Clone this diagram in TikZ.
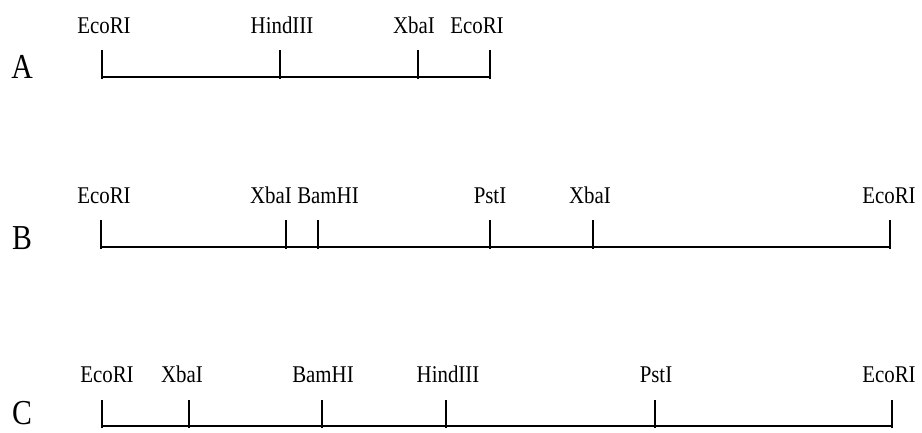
\documentclass[tikz,border=0pt]{standalone}
\usepackage{fontspec}
\setmainfont{Liberation Serif}
\newfontfamily\labfont[FakeStretch=0.87]{Liberation Serif}
\newfontfamily\rowfont[FakeStretch=0.85]{Liberation Serif}
\begin{document}
\begin{tikzpicture}[x=1pt,y=-1pt,
  sitetick/.style={line width=1.3pt},
  dnaline/.style={line width=1.3pt},
  enz/.style={font=\labfont\fontsize{24}{24}\selectfont, anchor=base, inner sep=0pt},
  rowlab/.style={font=\rowfont\fontsize{35}{35}\selectfont, anchor=base, inner sep=0pt}]
\useasboundingbox (0,0) rectangle (922,432);
% Row A
\node[rowlab] (A) at (22,78) {A};
\foreach \n/\x/\lx/\t in {a1/102/104/EcoRI, a2/280/282/HindIII, a3/418/414/XbaI, a4/490/477/EcoRI} {
  \coordinate (\n) at (\x,77);
  \coordinate (\n t) at (\x,50);
  \draw[sitetick] (\n t) -- ([yshift=-1.5pt]\n);
  \node[enz] (\n l) at (\lx,33) {\t};
}
\draw[dnaline] (a1) -- (a4);
% Row B
\node[rowlab] (B) at (22,249) {B};
\foreach \n/\x/\lx/\t in {b1/101/104/EcoRI, b2/286/271/XbaI, b3/318/328/BamHI, b4/490/490/PstI, b5/593/590/XbaI, b6/890/889/EcoRI} {
  \coordinate (\n) at (\x,247);
  \coordinate (\n t) at (\x,220);
  \draw[sitetick] (\n t) -- ([yshift=-1.5pt]\n);
  \node[enz] (\n l) at (\lx,203) {\t};
}
\draw[dnaline] (b1) -- (b6);
% Row C
\node[rowlab] (C) at (22,424) {C};
\foreach \n/\x/\lx/\t in {c1/102/107/EcoRI, c2/189/182/XbaI, c3/322/323/BamHI, c4/446/448/HindIII, c5/655/656/PstI, c6/892/889/EcoRI} {
  \coordinate (\n) at (\x,426);
  \coordinate (\n t) at (\x,400);
  \draw[sitetick] (\n t) -- ([yshift=-1.5pt]\n);
  \node[enz] (\n l) at (\lx,382) {\t};
}
\draw[dnaline] (c1) -- (c6);
\end{tikzpicture}
\end{document}
